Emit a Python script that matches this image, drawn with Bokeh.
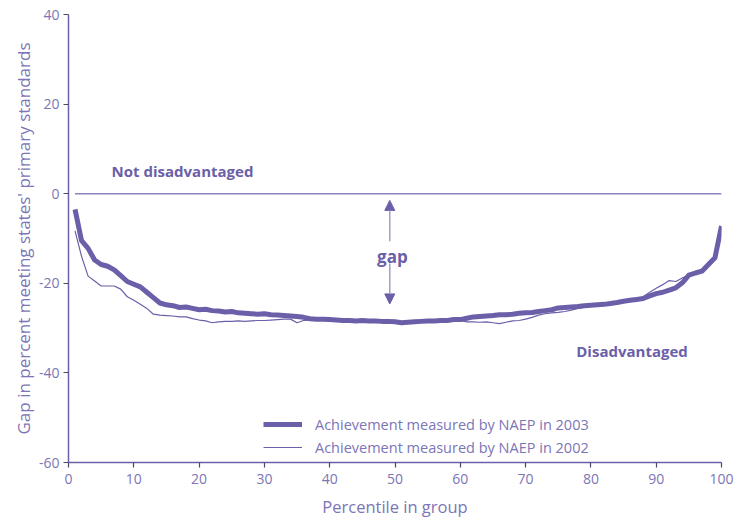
from bokeh.plotting import figure
from bokeh.models import (Range1d, FixedTicker, Legend, LegendItem, Label, Arrow,
                          NormalHead, PrintfTickFormatter)
from bokeh.embed import file_html
from bokeh.resources import INLINE

# ---------------- data ----------------
percentile = list(range(1, 101))

naep_2003 = [
    -3.5, -10.5, -12.2, -14.8, -15.8, -16.2, -17.0, -18.3, -19.6, -20.2,
    -20.8, -22.0, -23.2, -24.4, -24.8, -25.0, -25.4, -25.3, -25.6, -25.9,
    -25.8, -26.1, -26.2, -26.4, -26.3, -26.6, -26.7, -26.8, -26.9, -26.8,
    -27.0, -27.1, -27.2, -27.3, -27.4, -27.6, -27.9, -28.0, -28.0, -28.1,
    -28.2, -28.3, -28.3, -28.4, -28.3, -28.4, -28.4, -28.5, -28.5, -28.6,
    -28.8, -28.7, -28.6, -28.5, -28.4, -28.4, -28.3, -28.3, -28.1, -28.1,
    -27.8, -27.5, -27.4, -27.3, -27.2, -27.0, -27.0, -26.9, -26.7, -26.6,
    -26.5, -26.3, -26.1, -25.9, -25.5, -25.4, -25.3, -25.2, -25.0, -24.9,
    -24.8, -24.7, -24.5, -24.3, -24.0, -23.8, -23.6, -23.4, -22.8, -22.3,
    -22.0, -21.5, -21.0, -19.9, -18.2, -17.7, -17.3, -15.8, -14.3, -7.2,
]

naep_2002 = [
    -8.3, -14.0, -18.4, -19.5, -20.6, -20.6, -20.6, -21.3, -23.0, -23.8,
    -24.7, -25.6, -26.9, -27.1, -27.2, -27.3, -27.5, -27.5, -27.9, -28.2,
    -28.4, -28.8, -28.6, -28.5, -28.5, -28.4, -28.5, -28.4, -28.3, -28.3,
    -28.2, -28.1, -28.0, -28.0, -28.8, -28.3, -28.2, -28.1, -28.1, -28.2,
    -28.3, -28.3, -28.4, -28.4, -28.3, -28.4, -28.5, -28.5, -28.6, -28.6,
    -28.8, -28.7, -28.6, -28.5, -28.4, -28.5, -28.4, -28.4, -28.2, -28.3,
    -28.6, -28.6, -28.7, -28.6, -28.8, -29.0, -28.7, -28.4, -28.3, -28.0,
    -27.6, -27.1, -26.8, -26.6, -26.5, -26.3, -26.0, -25.6, -25.3, -25.0,
    -24.8, -24.7, -24.5, -24.3, -24.0, -23.7, -23.5, -23.0, -22.0, -21.1,
    -20.3, -19.4, -19.6, -18.8, -18.3, -17.6, -17.0, -15.7, -14.0, -7.5,
]

x_ticks = [0, 10, 20, 30, 40, 50, 60, 70, 80, 90, 100]
y_ticks = [-60, -40, -20, 0, 20, 40]

legend_labels = ["Achievement measured by NAEP in 2003",
                 "Achievement measured by NAEP in 2002"]

# ---------------- styling ----------------
PURPLE = "#6a5fa8"
TEXT = "#7c75b6"
ZERO = "#8a83c0"
SHAFT = "#a39ccf"
FONT = "Open Sans"

p = figure(width=735, height=521, output_backend="svg", toolbar_location=None,
           x_range=Range1d(0, 100), y_range=Range1d(-60, 40),
           min_border_left=68, min_border_right=14, min_border_top=14,
           min_border_bottom=59)
p.outline_line_color = None
p.xgrid.visible = False
p.ygrid.visible = False
p.background_fill_color = "white"
p.border_fill_color = "white"

for ax in (p.xaxis[0], p.yaxis[0]):
    ax.axis_line_color = PURPLE
    ax.axis_line_width = 1.5
    ax.major_tick_line_color = "#4d4866"
    ax.major_tick_line_width = 1.2
    ax.major_tick_out = 5
    ax.major_tick_in = 0
    ax.minor_tick_line_color = None
    ax.major_label_text_font = FONT
    ax.major_label_text_font_size = "14px"
    ax.major_label_text_color = TEXT
    ax.axis_label_text_font = FONT
    ax.axis_label_text_font_style = "normal"
    ax.axis_label_text_color = TEXT
    ax.formatter = PrintfTickFormatter(format="%d")

p.xaxis.ticker = FixedTicker(ticks=x_ticks)
p.yaxis.ticker = FixedTicker(ticks=y_ticks)
p.xaxis.axis_label = "Percentile in group"
p.yaxis.axis_label = "Gap in percent meeting states' primary standards"
p.xaxis.axis_label_text_font_size = "16.5px"
p.yaxis.axis_label_text_font_size = "17px"
p.xaxis.major_label_standoff = 6
p.xaxis.axis_label_standoff = 8
p.yaxis.major_label_standoff = 4
p.yaxis.axis_label_standoff = 1

# zero reference line ("Not disadvantaged")
p.line(x=[percentile[0], percentile[-1]], y=[0, 0], line_color=ZERO, line_width=1.5)

r2003 = p.line(x=percentile, y=naep_2003, line_color=PURPLE, line_width=5,
               line_join="round")
r2002 = p.line(x=percentile, y=naep_2002, line_color=PURPLE, line_width=1.2,
               line_join="round")

legend = Legend(items=[LegendItem(label=legend_labels[0], renderers=[r2003]),
                       LegendItem(label=legend_labels[1], renderers=[r2002])],
                location=(195, 5), padding=0, margin=0, spacing=3,
                glyph_width=39, glyph_height=20, label_height=20,
                label_standoff=13,
                label_text_font=FONT, label_text_font_size="14.5px",
                label_text_color=TEXT,
                background_fill_alpha=0, border_line_alpha=0)
p.add_layout(legend)

# annotations
p.add_layout(Label(x=6.6, y=5, text="Not disadvantaged", text_font=FONT,
                   text_font_size="15px", text_font_style="bold",
                   text_color=PURPLE, text_baseline="middle", text_align="left"))
p.add_layout(Label(x=86.3, y=-35, text="Disadvantaged", text_font=FONT,
                   text_font_size="15px", text_font_style="bold",
                   text_color=PURPLE, text_baseline="middle", text_align="center"))
p.add_layout(Label(x=49.6, y=-14, text="gap", text_font=FONT,
                   text_font_size="17px", text_font_style="bold",
                   text_color=PURPLE, text_baseline="middle", text_align="center"))

p.add_layout(Arrow(x_start=49.2, y_start=-10.6, x_end=49.2, y_end=-1.5,
                   line_color=SHAFT, line_width=1.5,
                   end=NormalHead(size=10, fill_color=PURPLE, line_color=PURPLE)))
p.add_layout(Arrow(x_start=49.2, y_start=-15.6, x_end=49.2, y_end=-24.6,
                   line_color=SHAFT, line_width=1.5,
                   end=NormalHead(size=10, fill_color=PURPLE, line_color=PURPLE)))

open("out.html", "w").write(file_html(p, INLINE))
